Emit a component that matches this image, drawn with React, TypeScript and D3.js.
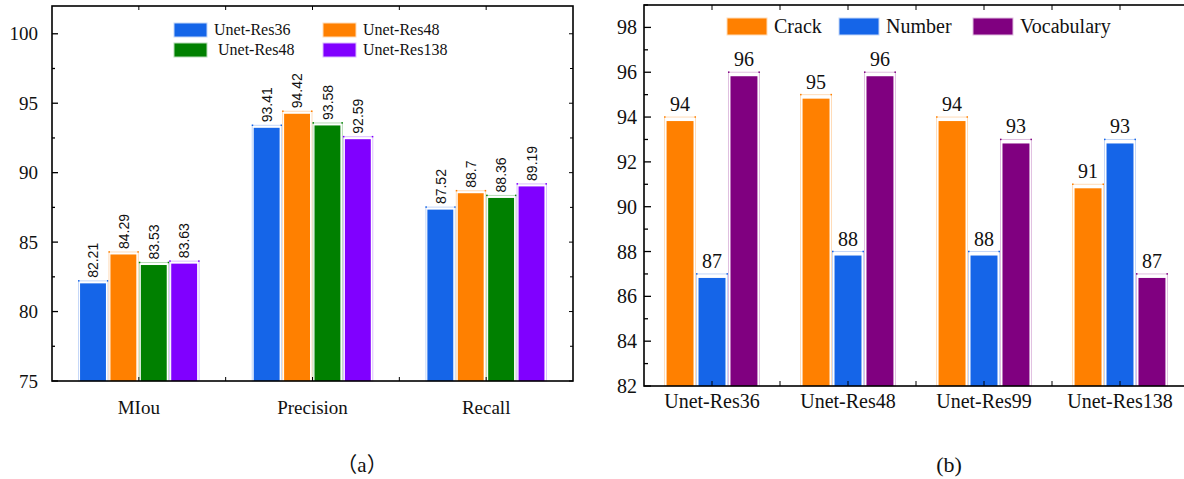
import { useEffect, useRef } from 'react';
import * as d3 from 'd3';

// (a) metrics per model
const metricNames = ['MIou', 'Precision', 'Recall'];
const modelNamesA = ['Unet-Res36', 'Unet-Res48', ' Unet-Res48', 'Unet-Res138'];
const res36Scores = [82.21, 93.41, 87.52];
const res48Scores = [84.29, 94.42, 88.7];
const res48bScores = [83.53, 93.58, 88.36];
const res138Scores = [83.63, 92.59, 89.19];
const colorsA = ['#1565e8', '#ff8000', '#008000', '#8000ff'];
const lightA = ['#c4d7f8', '#ffdcb8', '#b8dcb8', '#dcbcff'];
const yTicksA = [75, 80, 85, 90, 95, 100];

// (b) accuracy per recognition task
const modelNamesB = ['Unet-Res36', 'Unet-Res48', 'Unet-Res99', 'Unet-Res138'];
const taskNames = ['Crack', 'Number', 'Vocabulary'];
const crackScores = [94, 95, 94, 91];
const numberScores = [87, 88, 88, 93];
const vocabScores = [96, 96, 93, 87];
const colorsB = ['#ff8000', '#1565e8', '#800080'];
const lightB = ['#ffdcb8', '#c4d7f8', '#e0bfe0'];
const yTicksB = [82, 84, 86, 88, 90, 92, 94, 96, 98];

const SERIF = '"Liberation Serif", "Times New Roman", serif';
const SANS = '"Liberation Sans", Arial, sans-serif';
const CJK = '"Noto Sans CJK SC", sans-serif';

export default function App() {
  const svgRef = useRef<SVGSVGElement>(null);

  useEffect(() => {
    if (!svgRef.current) return;
    const svg = d3.select(svgRef.current);
    svg.selectAll('*').remove();

    // ---------- panel (a) ----------
    {
      const box = { left: 52, right: 573, top: 6, bottom: 381 };
      const series = [res36Scores, res48Scores, res48bScores, res138Scores];
      const y = d3.scaleLinear().domain([75, 102]).range([box.bottom, box.top]);
      const x0 = d3.scaleBand<string>().domain(metricNames).range([box.left, box.right]);
      const groupW = x0.bandwidth() * 0.7;
      const x1 = d3.scaleBand<number>().domain(d3.range(series.length)).range([0, groupW]);
      const g = svg.append('g');

      // bars: pale outline at the value, filled bar inset
      metricNames.forEach((m, ci) => {
        const gx = (x0(m) || 0) + (x0.bandwidth() - groupW) / 2;
        series.forEach((vals, si) => {
          const v = vals[ci];
          const bx = gx + (x1(si) || 0);
          const bw = x1.bandwidth();
          const top = y(v);
          g.append('rect')
            .attr('x', bx + 0.5).attr('y', top)
            .attr('width', bw - 1).attr('height', box.bottom - top)
            .attr('fill', 'none').attr('stroke', lightA[si]).attr('stroke-width', 1);
          g.append('rect')
            .attr('x', bx + 2).attr('y', top + 2.5)
            .attr('width', bw - 4.5).attr('height', box.bottom - top - 2.5)
            .attr('fill', colorsA[si]);
          [bx, bx + bw - 1.5].forEach(cx => {
            g.append('rect').attr('x', cx).attr('y', top - 0.8).attr('width', 1.5).attr('height', 1.5)
              .attr('fill', colorsA[si]);
          });
          g.append('text')
            .attr('transform', `translate(${bx + bw / 2},${top - 3}) rotate(-90)`)
            .attr('dominant-baseline', 'central')
            .attr('font-family', SANS).attr('font-size', 14).attr('fill', '#111')
            .text(String(v));
        });
      });

      // frame
      g.append('rect')
        .attr('x', box.left).attr('y', box.top)
        .attr('width', box.right - box.left).attr('height', box.bottom - box.top)
        .attr('fill', 'none').attr('stroke', '#000').attr('stroke-width', 1.6);

      // y ticks (inside, both sides)
      yTicksA.forEach(t => {
        g.append('line').attr('x1', box.left).attr('x2', box.left + 6).attr('y1', y(t)).attr('y2', y(t))
          .attr('stroke', '#000').attr('stroke-width', 1.3);
        g.append('line').attr('x1', box.right).attr('x2', box.right - 4).attr('y1', y(t)).attr('y2', y(t))
          .attr('stroke', '#000').attr('stroke-width', 1);
        g.append('text').attr('x', 38).attr('y', y(t)).attr('text-anchor', 'end')
          .attr('dominant-baseline', 'central')
          .attr('font-family', SERIF).attr('font-size', 19).attr('fill', '#111').text(t);
      });
      yTicksA.slice(0, -1).forEach(t => {
        const ym = y(t + 2.5);
        g.append('line').attr('x1', box.left).attr('x2', box.left + 3).attr('y1', ym).attr('y2', ym)
          .attr('stroke', '#000').attr('stroke-width', 1.3);
        g.append('line').attr('x1', box.right).attr('x2', box.right - 3).attr('y1', ym).attr('y2', ym)
          .attr('stroke', '#000').attr('stroke-width', 1);
      });

      // x ticks at centers and boundaries (top & bottom)
      const xt: number[] = [];
      metricNames.forEach((m, i) => {
        xt.push((x0(m) || 0) + x0.bandwidth() / 2);
        if (i > 0) xt.push(x0(m) || 0);
      });
      xt.forEach(xv => {
        g.append('line').attr('x1', xv).attr('x2', xv).attr('y1', box.top).attr('y2', box.top + 4)
          .attr('stroke', '#000').attr('stroke-width', 1);
        g.append('line').attr('x1', xv).attr('x2', xv).attr('y1', box.bottom).attr('y2', box.bottom - 4)
          .attr('stroke', '#000').attr('stroke-width', 1);
      });

      metricNames.forEach(m => {
        g.append('text').attr('x', (x0(m) || 0) + x0.bandwidth() / 2).attr('y', 414)
          .attr('text-anchor', 'middle')
          .attr('font-family', SERIF).attr('font-size', 19).attr('fill', '#111').text(m);
      });

      // legend 2x2
      const legX = [174, 323];
      const legY = [23, 43];
      modelNamesA.forEach((name, i) => {
        const lx = legX[i % 2];
        const ly = legY[Math.floor(i / 2)];
        g.append('rect').attr('x', lx).attr('y', ly).attr('width', 33).attr('height', 14)
          .attr('fill', colorsA[i]).attr('stroke', lightA[i]).attr('stroke-width', 1);
        g.append('text').attr('x', lx + 40).attr('y', ly + 12)
          .attr('font-family', SERIF).attr('font-size', 16).attr('fill', '#111')
          .style('white-space', 'pre')
          .text(name);
      });

      const cap = g.append('text').attr('x', 362).attr('y', 472).attr('text-anchor', 'middle')
        .attr('font-size', 21).attr('fill', '#111');
      cap.append('tspan').attr('font-family', CJK).text('（');
      cap.append('tspan').attr('font-family', SERIF).text('a');
      cap.append('tspan').attr('font-family', CJK).text('）');
    }

    // ---------- panel (b) ----------
    {
      const box = { left: 644, right: 1188, top: 5, bottom: 386 };
      const series = [crackScores, numberScores, vocabScores];
      const y = d3.scaleLinear().domain([82, 99]).range([box.bottom, box.top]);
      const x0 = d3.scaleBand<string>().domain(modelNamesB).range([box.left, box.right]);
      const groupW = x0.bandwidth() * 0.705;
      const x1 = d3.scaleBand<number>().domain(d3.range(series.length)).range([0, groupW]);
      const g = svg.append('g');

      modelNamesB.forEach((m, ci) => {
        const gx = (x0(m) || 0) + (x0.bandwidth() - groupW) / 2;
        series.forEach((vals, si) => {
          const v = vals[ci];
          const bx = gx + (x1(si) || 0);
          const bw = x1.bandwidth();
          const top = y(v);
          g.append('rect')
            .attr('x', bx + 0.5).attr('y', top)
            .attr('width', bw - 1).attr('height', box.bottom - top)
            .attr('fill', 'none').attr('stroke', lightB[si]).attr('stroke-width', 1);
          g.append('rect')
            .attr('x', bx + 2.5).attr('y', top + 4)
            .attr('width', bw - 5).attr('height', box.bottom - top - 4)
            .attr('fill', colorsB[si]);
          [bx, bx + bw - 1.5].forEach(cx => {
            g.append('rect').attr('x', cx).attr('y', top - 0.8).attr('width', 1.5).attr('height', 1.5)
              .attr('fill', colorsB[si]);
          });
          g.append('text')
            .attr('x', bx + bw / 2).attr('y', top - 6)
            .attr('text-anchor', 'middle')
            .attr('font-family', SERIF).attr('font-size', 20).attr('fill', '#111')
            .text(String(v));
        });
      });

      g.append('rect')
        .attr('x', box.left).attr('y', box.top)
        .attr('width', box.right - box.left).attr('height', box.bottom - box.top)
        .attr('fill', 'none').attr('stroke', '#000').attr('stroke-width', 1.6);

      yTicksB.forEach(t => {
        g.append('line').attr('x1', box.left).attr('x2', box.left + 7).attr('y1', y(t)).attr('y2', y(t))
          .attr('stroke', '#000').attr('stroke-width', 1.3);
        g.append('text').attr('x', 637).attr('y', y(t)).attr('text-anchor', 'end')
          .attr('dominant-baseline', 'central')
          .attr('font-family', SERIF).attr('font-size', 20).attr('fill', '#111').text(t);
      });
      yTicksB.map(t => t + 1).forEach(t => {
        g.append('line').attr('x1', box.left).attr('x2', box.left + 4).attr('y1', y(t)).attr('y2', y(t))
          .attr('stroke', '#000').attr('stroke-width', 1.3);
      });

      const xt: number[] = [];
      modelNamesB.forEach((m, i) => {
        xt.push((x0(m) || 0) + x0.bandwidth() / 2);
        if (i > 0) xt.push(x0(m) || 0);
      });
      xt.forEach(xv => {
        g.append('line').attr('x1', xv).attr('x2', xv).attr('y1', box.top).attr('y2', box.top + 5)
          .attr('stroke', '#000').attr('stroke-width', 1);
        g.append('line').attr('x1', xv).attr('x2', xv).attr('y1', box.bottom).attr('y2', box.bottom - 5)
          .attr('stroke', '#000').attr('stroke-width', 1);
      });

      modelNamesB.forEach(m => {
        g.append('text').attr('x', (x0(m) || 0) + x0.bandwidth() / 2).attr('y', 408)
          .attr('text-anchor', 'middle')
          .attr('font-family', SERIF).attr('font-size', 20).attr('fill', '#111').text(m);
      });

      const legX = [727, 839, 973];
      taskNames.forEach((name, i) => {
        g.append('rect').attr('x', legX[i]).attr('y', 18).attr('width', 40).attr('height', 17)
          .attr('fill', colorsB[i]).attr('stroke', lightB[i]).attr('stroke-width', 1);
        g.append('text').attr('x', legX[i] + 47).attr('y', 33)
          .attr('font-family', SERIF).attr('font-size', 20).attr('fill', '#111').text(name);
      });

      g.append('text').attr('x', 949).attr('y', 472).attr('text-anchor', 'middle')
        .attr('font-family', SERIF).attr('font-size', 22).attr('fill', '#111')
        .text('(b)');
    }
  }, []);

  return (
    <svg
      ref={svgRef}
      width={1184}
      height={479}
      style={{ position: 'absolute', left: 0, top: 0, background: '#fff' }}
    />
  );
}
